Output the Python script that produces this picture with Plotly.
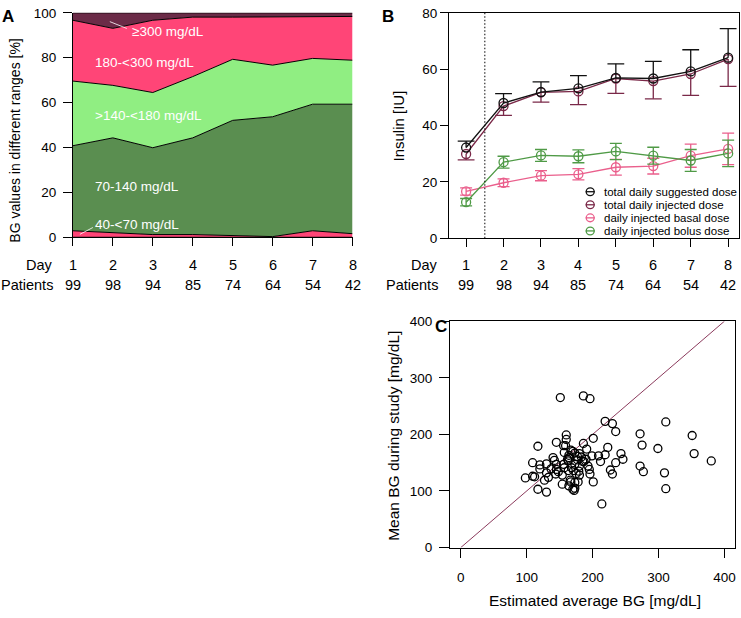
import numpy as np
import plotly.graph_objects as go

W, H = 741, 618

# ---------------- data ----------------
days = [1, 2, 3, 4, 5, 6, 7, 8]
patients = [99, 98, 94, 85, 74, 64, 54, 42]

# Panel A: % of BG values per range
pct_40_70 = [2.9, 2.0, 1.2, 1.2, 0.7, 0.3, 2.9, 1.6]
pct_70_140 = [37.9, 42.3, 38.7, 43.1, 51.4, 53.4, 56.4, 57.7]
pct_140_180 = [28.8, 23.4, 24.6, 27.3, 27.2, 23.0, 20.4, 19.6]
pct_180_300 = [27.1, 25.4, 32.2, 26.5, 18.8, 21.4, 18.4, 19.5]
pct_300 = [3.3, 6.9, 3.3, 1.9, 1.9, 1.9, 1.9, 1.6]
range_labels = ["40-<70 mg/dL", "70-140 mg/dL", ">140-<180 mg/dL", "180-<300 mg/dL", "≥300 mg/dL"]

# Panel B: insulin doses [IU]
suggested = [32.2, 48.0, 51.9, 53.2, 56.9, 56.7, 59.2, 64.1]
suggested_err = [2.3, 3.3, 3.6, 4.5, 5.0, 6.1, 7.7, 10.3]
injected = [29.9, 46.9, 51.8, 52.1, 56.7, 55.8, 58.3, 63.6]
injected_err = [2.1, 3.3, 3.5, 4.7, 5.3, 6.3, 7.6, 9.7]
basal = [16.6, 19.7, 22.2, 22.7, 25.2, 25.6, 29.3, 31.7]
basal_err = [1.3, 1.4, 1.8, 2.0, 2.8, 2.8, 4.1, 5.6]
bolus = [12.8, 27.0, 29.4, 29.1, 30.8, 29.3, 27.6, 30.1]
bolus_err = [1.3, 2.1, 2.1, 2.3, 2.9, 3.0, 3.9, 4.7]
legend_names = ["total daily suggested dose", "total daily injected dose",
                "daily injected basal dose", "daily injected bolus dose"]

# Panel C: estimated average BG vs mean BG during study
est_bg = [151, 186, 196, 219, 230, 235, 311, 272, 275, 299, 351, 354, 380, 272, 277, 309,
          311, 214, 117, 145, 160, 160, 156, 186, 201, 191, 223, 219, 209, 212, 235, 243,
          246, 227, 230, 201, 196, 195, 193, 199, 109, 98, 109, 112, 120, 120, 130, 127,
          130, 117, 130, 133, 140, 142, 145, 144, 148, 154, 154, 164, 170, 172, 166, 167,
          173, 180, 179, 180, 185, 183, 177, 173, 170, 167, 164, 162, 157, 156, 157, 163,
          173, 171, 175, 168, 177, 187, 180, 164, 145, 137, 159, 178, 173, 190, 163]
mean_bg = [265, 268, 263, 223, 219, 205, 222, 201, 181, 175, 198, 166, 153, 144, 134, 132,
           104, 77, 179, 186, 199, 191, 180, 184, 193, 174, 177, 164, 162, 152, 150, 166,
           156, 137, 130, 116, 130, 138, 144, 162, 150, 123, 126, 125, 139, 146, 148, 119,
           132, 103, 98, 124, 159, 154, 147, 130, 134, 128, 112, 109, 103, 101, 119, 116,
           115, 128, 135, 144, 152, 160, 161, 167, 170, 172, 163, 156, 168, 147, 141, 153,
           147, 136, 131, 141, 155, 152, 166, 159, 138, 139, 180, 116, 105, 156, 136]
identity_line = [0, 400]

# ---------------- styling ----------------
FONT = "Liberation Sans, Arial, sans-serif"
C_DARK = "#6b2b47"
C_PINK = "#ff4577"
C_LGREEN = "#90ee82"
C_DGREEN = "#5a8e50"
range_colors = [C_PINK, C_DGREEN, C_LGREEN, C_PINK, C_DARK]

C_SUG = "#111111"
C_INJ = "#7a2848"
C_BAS = "#ea5f8c"
C_BOL = "#4f9a46"


def px(x):
    return x / W


def py(y):
    return 1 - y / H


fig = go.Figure()

# ---------------- Panel A ----------------
layers = [pct_40_70, pct_70_140, pct_140_180, pct_180_300, pct_300]
cum = np.cumsum(np.array(layers), axis=0)
fig.add_trace(go.Scatter(x=days, y=[0] * len(days), mode="lines",
                         line=dict(color="black", width=1), xaxis="x", yaxis="y",
                         showlegend=False, hoverinfo="skip"))
for i, name in enumerate(range_labels):
    fig.add_trace(go.Scatter(x=days, y=cum[i], mode="lines", fill="tonexty",
                             fillcolor=range_colors[i], line=dict(color="black", width=1),
                             xaxis="x", yaxis="y", name=name, showlegend=False))

# ---------------- Panel B ----------------
zeros = [0] * len(days)
fig.add_trace(go.Scatter(x=days, y=injected, mode="lines+markers", xaxis="x2", yaxis="y2",
                         line=dict(color=C_INJ, width=1.3),
                         marker=dict(symbol="circle-open", size=9, color=C_INJ, line=dict(width=1.3)),
                         error_y=dict(type="data", symmetric=False, array=zeros, arrayminus=injected_err,
                                      color=C_INJ, thickness=1.3, width=0),
                         showlegend=False))
fig.add_trace(go.Scatter(x=days, y=[v - e for v, e in zip(injected, injected_err)], mode="markers",
                         xaxis="x2", yaxis="y2",
                         marker=dict(symbol="line-ew-open", size=12, color=C_INJ, line=dict(width=1.3, color=C_INJ)),
                         showlegend=False, hoverinfo="skip"))
fig.add_trace(go.Scatter(x=days, y=suggested, mode="lines+markers", xaxis="x2", yaxis="y2",
                         line=dict(color=C_SUG, width=1.3),
                         marker=dict(symbol="circle-open", size=9, color=C_SUG, line=dict(width=1.3)),
                         error_y=dict(type="data", symmetric=False, array=suggested_err, arrayminus=zeros,
                                      color=C_SUG, thickness=1.3, width=0),
                         showlegend=False))
fig.add_trace(go.Scatter(x=days, y=[v + e for v, e in zip(suggested, suggested_err)], mode="markers",
                         xaxis="x2", yaxis="y2",
                         marker=dict(symbol="line-ew-open", size=12, color=C_SUG, line=dict(width=1.3, color=C_SUG)),
                         showlegend=False, hoverinfo="skip"))
for vals, errs, col in [(basal, basal_err, C_BAS), (bolus, bolus_err, C_BOL)]:
    fig.add_trace(go.Scatter(x=days, y=vals, mode="lines+markers", xaxis="x2", yaxis="y2",
                             line=dict(color=col, width=1.3),
                             marker=dict(symbol="circle-open", size=9, color=col, line=dict(width=1.3)),
                             error_y=dict(type="data", array=errs, color=col, thickness=1.3, width=6),
                             showlegend=False))

# ---------------- Panel C ----------------
fig.add_trace(go.Scatter(x=identity_line, y=identity_line, mode="lines", xaxis="x3", yaxis="y3",
                         line=dict(color="#8b3a5c", width=1), showlegend=False, hoverinfo="skip"))
fig.add_trace(go.Scatter(x=est_bg, y=mean_bg, mode="markers", xaxis="x3", yaxis="y3",
                         marker=dict(symbol="circle-open", size=8, color="black", line=dict(width=1.3)),
                         showlegend=False))

# ---------------- axes ----------------
tickfont = dict(family=FONT, size=13.5, color="black")
common = dict(showgrid=False, zeroline=False, ticks="outside", tickcolor="black",
              linecolor="black", tickfont=tickfont, fixedrange=True)

fig.update_layout(
    width=W, height=H, margin=dict(l=0, r=0, t=0, b=0),
    paper_bgcolor="white", plot_bgcolor="white",
    font=dict(family=FONT, color="black"),
    xaxis=dict(domain=[px(73), px(353)], range=[1, 8], tickvals=days, showticklabels=False,
               showline=True, linewidth=1, ticklen=8, anchor="y", **common),
    yaxis=dict(domain=[py(236), py(6)], range=[0, 100], tickvals=[0, 20, 40, 60, 80, 100],
               showline=True, linewidth=1, ticklen=9, ticklabelstandoff=4, anchor="x", **common),
    xaxis2=dict(domain=[px(449.5), px(740)], range=[0.54, 8.29], tickvals=days, showticklabels=False,
                showline=True, mirror=True, linewidth=1, ticklen=8, anchor="y2", **common),
    yaxis2=dict(domain=[py(237), py(6)], range=[0, 80], tickvals=[0, 20, 40, 60, 80],
                showline=True, mirror=True, linewidth=1, ticklen=8, anchor="x2", **common),
    xaxis3=dict(domain=[px(450.5), px(736)], range=[-16.5, 416], tickvals=[0, 100, 200, 300, 400],
                showline=True, mirror=True, linewidth=1, ticklen=9, ticklabelstandoff=8,
                anchor="y3", **common),
    yaxis3=dict(domain=[py(554), py(322)], range=[0, 400], tickvals=[0, 100, 200, 300, 400],
                showline=True, mirror=True, linewidth=1, ticklen=10, ticklabelstandoff=4,
                anchor="x3", **common),
)

annotations = []
shapes = []


def ann(text, x, y, size=14, xanchor="center", yanchor="middle", xref="paper", color="black",
        angle=0, bold=False):
    annotations.append(dict(text=f"<b>{text}</b>" if bold else text, x=x, y=y, xref=xref, yref="paper",
                            xanchor=xanchor, yanchor=yanchor, showarrow=False, textangle=angle,
                            font=dict(family=FONT, size=size, color=color)))


# panel letters
ann("A", px(8), py(10), size=17, bold=True)
ann("B", px(389), py(10), size=17, bold=True)
ann("C", px(442), py(327), size=17, bold=True)

# axis titles
ann("BG values in different ranges [%]", px(15), py(137), size=14, angle=-90)
ann("Insulin [IU]", px(399), py(122), size=15, angle=-90)
ann("Mean BG during study [mg/dL]", px(394), py(439), size=15.5, angle=-90)
ann("Estimated average BG [mg/dL]", px(596), py(608), size=15.5)

# Day / Patients rows
for xr, lab_x in [("x", 55), ("x2", 441)]:
    ann("Day", px(lab_x), py(264), size=14.5, xanchor="right")
    ann("Patients", px(lab_x), py(285), size=14.5, xanchor="right")
    for d, p in zip(days, patients):
        ann(str(d), d, py(264), size=14.5, xref=xr)
        ann(str(p), d, py(285), size=14.5, xref=xr)

# Panel A range labels
ann(range_labels[4], px(130), py(25), size=13.5, xanchor="left", color="white")
ann(range_labels[3], px(93), py(57), size=13.5, xanchor="left", color="white")
ann(range_labels[2], px(93), py(111), size=13.5, xanchor="left", color="white")
ann(range_labels[1], px(93), py(184), size=13.5, xanchor="left", color="white")
ann(range_labels[0], px(93), py(223), size=13.5, xanchor="left", color="white")
shapes.append(dict(type="line", xref="paper", yref="paper", x0=px(110), y0=py(15), x1=px(127), y1=py(22),
                   line=dict(color="white", width=0.8)))
shapes.append(dict(type="line", xref="paper", yref="paper", x0=px(80), y0=py(233), x1=px(93), y1=py(226),
                   line=dict(color="white", width=0.8)))

# Panel B dotted separator
shapes.append(dict(type="line", xref="x2", yref="y2", x0=1.5, x1=1.5, y0=0, y1=80,
                   line=dict(color="black", width=1, dash="1.5px,2px")))

# Panel B manual legend
leg_cols = [C_SUG, C_INJ, C_BAS, C_BOL]
for i, (name, col) in enumerate(zip(legend_names, leg_cols)):
    yc = 189.3 + 13.4 * i
    shapes.append(dict(type="line", xref="paper", yref="paper", x0=px(586.5), x1=px(595.5),
                       y0=py(yc), y1=py(yc), line=dict(color=col, width=1.3)))
    shapes.append(dict(type="circle", xref="paper", yref="paper", x0=px(587), x1=px(595),
                       y0=py(yc - 4), y1=py(yc + 4), line=dict(color=col, width=1.3)))
    ann(name, px(602.5), py(yc), size=11.5, xanchor="left")

fig.update_layout(annotations=annotations, shapes=shapes)
fig.write_html("out.html", config=dict(displayModeBar=False),
               post_script="document.body.style.margin='0px';document.body.style.overflow='hidden';")
